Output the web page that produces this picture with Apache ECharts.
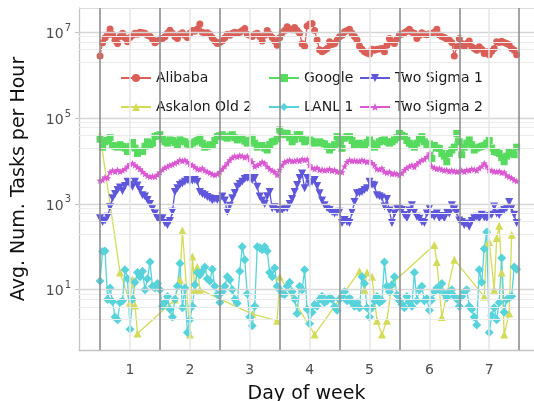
<!DOCTYPE html>
<html><head><meta charset="utf-8">
<script src="https://cdn.jsdelivr.net/npm/echarts@6/dist/echarts.min.js"></script>
<style>html,body{margin:0;padding:0;background:#fff}#c{width:534px;height:401px}</style>
</head><body><div id="c"></div>
<script>
// ---- data (hourly averages over the week, hour 0 = start of day 1) ----
const seriesNames = ['Alibaba', 'Askalon Old 2', 'Google', 'LANL 1', 'Two Sigma 1', 'Two Sigma 2'];
const xTickLabels = [1, 2, 3, 4, 5, 6, 7];
const dayBoundaries = [0.5, 1.5, 2.5, 3.5, 4.5, 5.5, 6.5, 7.5];
const yTickValues = [10, 1e3, 1e5, 1e7];
const yMinorValues = [2, 4, 6, 8, 200, 400, 600, 800, 2e4, 4e4, 6e4, 8e4, 2e6, 4e6, 6e6, 8e6];
const yRange = [0.393, 3.68e7];
const xRange = [0.148, 7.748];

const alibaba = [
 2.8e6,5.7e6,7.5e6,8.7e6,1.2e7,8.9e6,6.5e6,5.5e6,8.0e6,9.5e6,7.5e6,6.0e6,7.6e6,8.5e6,9.5e6,9.0e6,1.0e7,9.8e6,9.5e6,8.5e6,8.1e6,7.0e6,5.7e6,6.3e6,
 6.9e6,7.2e6,7.9e6,9.5e6,1.12e7,9.5e6,8.0e6,7.2e6,9.0e6,9.8e6,8.5e6,7.6e6,9.5e6,1.1e7,1.05e7,1.2e7,1.55e7,1.0e7,9.5e6,9.8e6,9.0e6,7.5e6,6.3e6,5.5e6,
 5.8e6,6.3e6,7.5e6,9.0e6,8.5e6,9.5e6,1.0e7,9.5e6,1.0e7,1.1e7,1.23e7,9.0e6,8.5e6,8.0e6,9.0e6,9.5e6,8.0e6,6.3e6,8.5e6,1.1e7,9.0e6,7.6e6,6.3e6,5.0e6,
 7.5e6,9.7e6,1.1e7,1.35e7,1.2e7,1.15e7,1.3e7,1.1e7,9.5e6,5.4e6,4.7e6,1.4e7,1.55e7,1.6e7,1.1e7,6.6e6,3.9e6,3.5e6,3.8e6,4.2e6,6.0e6,5.2e6,5.5e6,6.5e6,
 7.9e6,8.5e6,1.03e7,1.1e7,1.17e7,9.5e6,8.0e6,6.6e6,4.8e6,4.0e6,3.5e6,3.3e6,3.1e6,4.0e6,3.8e6,4.0e6,4.1e6,4.2e6,3.5e6,5.0e6,7.2e6,6.0e6,5.5e6,7.0e6,
 8.7e6,9.0e6,9.8e6,1.05e7,1.17e7,1.0e7,9.5e6,7.2e6,8.5e6,9.8e6,9.0e6,8.7e6,9.2e6,9.5e6,1.0e7,1.17e7,8.7e6,8.0e6,7.6e6,7.0e6,6.6e6,5.8e6,2.8e6,4.6e6,
 7.2e6,5.5e6,4.6e6,5.5e6,6.3e6,4.6e6,4.2e6,3.8e6,4.6e6,4.0e6,3.2e6,3.5e6,3.0e6,3.6e6,4.2e6,6.0e6,5.8e6,6.2e6,5.8e6,5.5e6,5.1e6,4.2e6,3.8e6,3.0e6
];
const google = [
 3.2e4,2.1e4,2.8e4,3.0e4,3.5e4,2.3e4,2.2e4,2.1e4,2.4e4,2.2e4,2.0e4,1.66e4,2.2e4,2.7e4,2.0e4,1.5e4,1.7e4,1.66e4,2.2e4,2.8e4,2.3e4,2.6e4,3.7e4,3.9e4,
 4.1e4,3.2e4,2.8e4,2.6e4,3.1e4,3.0e4,2.7e4,2.4e4,3.1e4,2.9e4,2.8e4,2.5e4,2.3e4,2.6e4,2.8e4,3.0e4,3.4e4,2.6e4,2.1e4,2.2e4,2.4e4,2.3e4,3.0e4,3.7e4,
 3.9e4,4.1e4,3.6e4,3.4e4,3.8e4,4.1e4,3.5e4,3.1e4,3.3e4,3.4e4,2.9e4,2.6e4,3.0e4,3.4e4,2.6e4,2.1e4,2.3e4,2.3e4,2.0e4,1.8e4,2.4e4,2.8e4,2.9e4,3.3e4,
 5.3e4,4.5e4,4.1e4,4.4e4,3.5e4,2.8e4,3.2e4,4.1e4,4.1e4,3.3e4,2.8e4,3.0e4,3.1e4,2.9e4,2.6e4,2.7e4,2.8e4,2.6e4,2.5e4,2.2e4,1.8e4,2.1e4,2.4e4,3.7e4,
 2.6e4,1.97e4,3.4e4,3.7e4,3.7e4,3.0e4,2.3e4,2.5e4,2.6e4,2.4e4,2.3e4,2.7e4,3.1e4,2.6e4,2.1e4,2.4e4,2.8e4,3.0e4,3.1e4,2.8e4,2.6e4,2.8e4,3.1e4,3.5e4,
 4.4e4,4.0e4,3.7e4,3.0e4,2.6e4,2.3e4,2.1e4,2.6e4,3.2e4,3.7e4,2.8e4,2.3e4,2.5e4,1.15e4,2.3e4,2.0e4,1.97e4,1.5e4,1.3e4,9.6e3,1.5e4,1.8e4,2.1e4,4.4e4,
 2.8e4,1.4e4,2.1e4,2.6e4,3.1e4,2.4e4,1.8e4,2.0e4,2.1e4,2.2e4,2.3e4,2.6e4,3.0e4,2.0e4,1.66e4,1.6e4,1.5e4,1.2e4,9.6e3,1.3e4,1.66e4,1.5e4,1.4e4,2.1e4
];
const twoSigma1 = [
 4.6e2,3.8e2,4.1e2,5.0e2,8.5e2,1.35e3,1.7e3,2.1e3,2.4e3,2.0e3,2.6e3,3.3e3,2.8e3,2.5e3,3.3e3,2.7e3,2.1e3,1.6e3,1.48e3,1.23e3,1.0e3,7.9e2,6.0e2,4.6e2,
 4.1e2,4.6e2,3.6e2,3.2e2,4.0e2,6.6e2,1.9e3,2.3e3,2.75e3,3.0e3,3.3e3,3.6e3,3.3e3,3.5e3,3.6e3,3.3e3,1.9e3,1.7e3,1.58e3,1.45e3,1.35e3,1.2e3,1.3e3,1.23e3,
 1.3e3,1.48e3,1.2e3,6.6e2,9.0e2,1.35e3,1.8e3,2.5e3,2.9e3,3.3e3,3.8e3,4.0e3,3.8e3,3.6e3,4.0e3,2.5e3,1.48e3,1.2e3,1.0e3,1.5e3,1.9e3,7.9e2,8.5e2,7.2e2,
 7.0e2,7.2e2,8.0e2,7.9e2,1.0e3,1.3e3,1.9e3,2.75e3,4.0e3,5.1e3,2.3e3,4.0e3,2.9e3,3.3e3,3.6e3,2.6e3,1.78e3,1.2e3,9.3e2,8.0e2,7.2e2,6.5e2,6.0e2,6.3e2,
 6.6e2,3.6e2,4.2e2,3.8e2,3.6e2,6.5e2,1.1e3,1.78e3,1.8e3,1.9e3,2.1e3,2.3e3,3.3e3,2.8e3,2.7e3,1.58e3,1.5e3,1.4e3,8.7e2,1.3e3,7.0e2,3.6e2,6.0e2,7.9e2,
 7.9e2,7.2e2,5.5e2,4.6e2,7.0e2,9.3e2,6.5e2,5.0e2,4.5e2,3.8e2,3.6e2,6.0e2,7.9e2,5.5e2,5.0e2,6.0e2,4.6e2,5.2e2,4.6e2,6.5e2,6.0e2,9.3e2,7.5e2,6.5e2,
 4.1e2,3.8e2,3.2e2,3.5e2,2.95e2,4.0e2,4.6e2,5.0e2,4.5e2,5.6e2,4.8e2,4.6e2,5.2e2,5.6e2,8.7e2,6.0e2,5.5e2,6.6e2,7.2e2,8.0e2,1.1e3,8.0e2,5.6e2,3.6e2
];
const twoSigma2 = [
 3.5e3,3.6e3,4.2e3,4.0e3,5.5e3,6.0e3,5.6e3,6.2e3,5.7e3,6.0e3,6.5e3,7.5e3,8.5e3,8.9e3,8.0e3,7.2e3,6.5e3,5.6e3,5.0e3,4.5e3,4.3e3,4.4e3,4.3e3,4.8e3,
 5.5e3,6.3e3,7.0e3,7.4e3,8.0e3,8.3e3,8.9e3,9.5e3,1.05e4,1.0e4,1.05e4,9.5e3,8.5e3,8.0e3,7.2e3,6.5e3,6.3e3,6.8e3,6.0e3,5.6e3,5.3e3,4.9e3,4.7e3,5.0e3,
 5.6e3,6.5e3,7.5e3,8.9e3,1.05e4,1.2e4,1.3e4,1.25e4,1.35e4,1.3e4,1.2e4,1.3e4,1.1e4,9.5e3,7.4e3,8.0e3,8.5e3,9.5e3,8.9e3,7.4e3,6.5e3,6.0e3,5.6e3,4.7e3,
 6.3e3,8.0e3,9.5e3,1.0e4,1.05e4,9.8e3,1.0e4,1.05e4,1.0e4,1.1e4,1.05e4,1.1e4,8.0e3,6.9e3,6.5e3,7.0e3,6.2e3,6.3e3,6.0e3,6.2e3,6.5e3,5.9e3,6.2e3,5.6e3,
 5.7e3,5.5e3,7.5e3,9.5e3,1.05e4,1.0e4,1.02e4,1.0e4,9.8e3,1.05e4,1.0e4,9.5e3,1.0e4,9.0e3,8.0e3,6.5e3,6.3e3,6.8e3,5.6e3,5.3e3,5.6e3,5.0e3,5.2e3,5.0e3,
 4.7e3,5.2e3,6.2e3,6.9e3,7.5e3,8.0e3,7.2e3,8.5e3,9.5e3,1.05e4,1.1e4,1.25e4,1.5e4,7.4e3,7.0e3,6.5e3,6.7e3,6.3e3,6.0e3,6.2e3,5.7e3,6.0e3,5.8e3,5.6e3,
 5.8e3,6.0e3,5.6e3,6.2e3,6.0e3,6.5e3,6.3e3,6.0e3,6.8e3,7.5e3,8.9e3,7.5e3,6.2e3,6.0e3,5.7e3,5.6e3,5.8e3,5.3e3,5.5e3,4.6e3,4.3e3,4.0e3,3.6e3,3.4e3
];
const lanl1 = [
 16,78,80,5.9,11,5.3,2.3,2.0,5.0,5.5,29,18,1.2,5.9,15,25,20,27,10,18,44,12,11,14,
 10,4.1,5,6.9,3.5,2.3,6,12,41,3.8,11,1.0,2.0,4.1,13,25,22,27,34,18,16,30,12,7.7,
 5.0,9,12,20,17,10,6,4.8,27,100,50,8,2.3,1.45,4.1,100,95,85,100,80,25,20,32,12,
 10,8,7.7,12,15,9,6,2.8,12,10,29,3.5,1.6,3,4.5,4.1,6,7,5,5.5,6.5,6,4,3.3,
 6,7,9,5.5,6.5,5,4.1,5,3.8,20,14,3.8,2.3,3.8,5.5,6.9,5,5.5,44,12,9,13,20,7.5,
 5.5,4.5,3.8,6.9,5,4.1,25,5.5,10,12,5.5,6.2,3.3,5.8,9,11,10,14,8,6.5,9,10,7,6,
 4.1,6.9,9,10,4.1,3.5,2.3,1.5,29,15,90,220,1.0,2.5,3.8,2.0,5,55,3,5.9,6.5,7,34,30
];
// Askalon Old 2 only reports some hours
const askalonHours = [0,8,12,13,14,15,30,32,33,36,37,38,39,40,61,71,72,86,104,106,107,109,111,113,115,117,134,135,137,142,154,155,156,158,159,160,161,162,164,165];
const askalonValues = [4.0e4,25,5,17,4.3,0.95,5.9,17,240,0.9,59,10,34,10,2.7,1.9,20,0.9,27,10,25,20,1.9,0.9,1.9,14,110,44,2.3,50,6.9,110,130,10,160,310,25,0.9,2.8,190];

// ---- build ----
const hourToDay = h => 0.5 + h / 24;
const toPairs = arr => arr.map((v, h) => [hourToDay(h), v]);
const colors = {'Alibaba':'#db5f57','Askalon Old 2':'#d3db57','Google':'#57db5f','LANL 1':'#57d3db','Two Sigma 1':'#5f57db','Two Sigma 2':'#db57d3'};
const starPath = 'path://M0,-10 L2.6,-3.4 L9.5,-3.1 L4.1,1.3 L5.9,8.1 L0,4.2 L-5.9,8.1 L-4.1,1.3 L-9.5,-3.1 L-2.6,-3.4 Z';
const FONT = 'DejaVu Sans';

// each series: a line (with legend symbol) plus a scatter layer so every hourly marker is drawn
function mkSeries(name, data, symbol, size, rotate) {
  const c = colors[name];
  return [{
    name, type: 'line', data, symbol, symbolSize: size, symbolRotate: rotate || 0, z: 3,
    showSymbol: false,
    itemStyle: {color: c}, lineStyle: {color: c, width: 1.3},
    emphasis: {disabled: true}
  }, {
    name, type: 'scatter', data, symbol, symbolSize: size, symbolRotate: rotate || 0, z: 3,
    itemStyle: {color: c, opacity: 1}, emphasis: {disabled: true}, silent: true
  }];
}

const gridLines = [];
yMinorValues.forEach(v => gridLines.push({yAxis: v, lineStyle: {color: '#ebebeb', width: 1, type: 'solid'}}));
yTickValues.forEach(v => gridLines.push({yAxis: v, lineStyle: {color: '#d6d6d6', width: 1.3, type: 'solid'}}));
gridLines.push({yAxis: yRange[1], lineStyle: {color: '#dcdcdc', width: 1.2, type: 'solid'}});
xTickLabels.forEach(v => gridLines.push({xAxis: v, lineStyle: {color: '#e6e6e6', width: 1.5, type: 'solid'}}));
dayBoundaries.forEach(v => gridLines.push({xAxis: v, lineStyle: {color: '#8f8f8f', width: 1.6, type: 'solid'}}));

const option = {
  animation: false,
  textStyle: {fontFamily: FONT},
  grid: {left: 79, right: 0, top: 8, bottom: 51, containLabel: false, outerBoundsMode: 'none'},
  xAxis: {
    type: 'value', min: xRange[0], max: xRange[1],
    name: 'Day of week', nameLocation: 'middle', nameGap: 35,
    nameTextStyle: {fontSize: 19, color: '#111', fontFamily: FONT},
    axisLine: {show: true, lineStyle: {color: '#c4c4c4', width: 1.3}},
    axisTick: {show: false},
    splitLine: {show: false},
    axisLabel: {customValues: xTickLabels, fontSize: 14, color: '#4d4d4d', margin: 13, fontFamily: FONT}
  },
  yAxis: {
    type: 'log', logBase: 10, min: yRange[0], max: yRange[1],
    name: 'Avg. Num. Tasks per Hour', nameLocation: 'middle', nameGap: 50,
    nameTextStyle: {fontSize: 19, color: '#111', fontFamily: FONT},
    axisLine: {show: true, lineStyle: {color: '#c4c4c4', width: 1.3}},
    axisTick: {show: true, customValues: yTickValues, length: 4, lineStyle: {color: '#c4c4c4'}},
    splitLine: {show: false}, minorSplitLine: {show: false},
    axisLabel: {
      customValues: yTickValues, margin: 8,
      formatter: v => '{b|10}{s|' + Math.round(Math.log10(v)) + '}',
      rich: {
        b: {fontSize: 14, color: '#4d4d4d', fontFamily: FONT, verticalAlign: 'bottom'},
        s: {fontSize: 10, color: '#4d4d4d', fontFamily: FONT, verticalAlign: 'bottom', padding: [0, 0, 8, 1]}
      }
    }
  },
  legend: [
    {data: ['Alibaba', 'Askalon Old 2']},
    {data: ['Google', 'LANL 1']},
    {data: ['Two Sigma 1', 'Two Sigma 2']}
  ].map((l, i) => Object.assign(l, {
    orient: 'vertical', left: [115, 263, 354][i], top: 66, itemGap: 15,
    itemWidth: 30, itemHeight: 10, selectedMode: false,
    textStyle: {fontSize: 14, color: '#1a1a1a', fontFamily: FONT}
  })),
  series: [
    {type: 'line', name: '_grid', data: [], z: 1, silent: true,
     markLine: {silent: true, symbol: ['none', 'none'], label: {show: false}, animation: false, data: gridLines}}
  ].concat(
    mkSeries('Alibaba', toPairs(alibaba), 'circle', 7),
    mkSeries('Askalon Old 2', askalonHours.map((h, i) => [hourToDay(h), askalonValues[i]]), 'triangle', 8),
    mkSeries('Google', toPairs(google), 'rect', 7),
    mkSeries('LANL 1', toPairs(lanl1), 'diamond', 9),
    mkSeries('Two Sigma 1', toPairs(twoSigma1), 'triangle', 8, 180),
    mkSeries('Two Sigma 2', toPairs(twoSigma2), starPath, 7)
  )
};
const chart = echarts.init(document.getElementById('c'), null, {renderer: 'canvas'});
chart.setOption(option);
</script></body></html>
